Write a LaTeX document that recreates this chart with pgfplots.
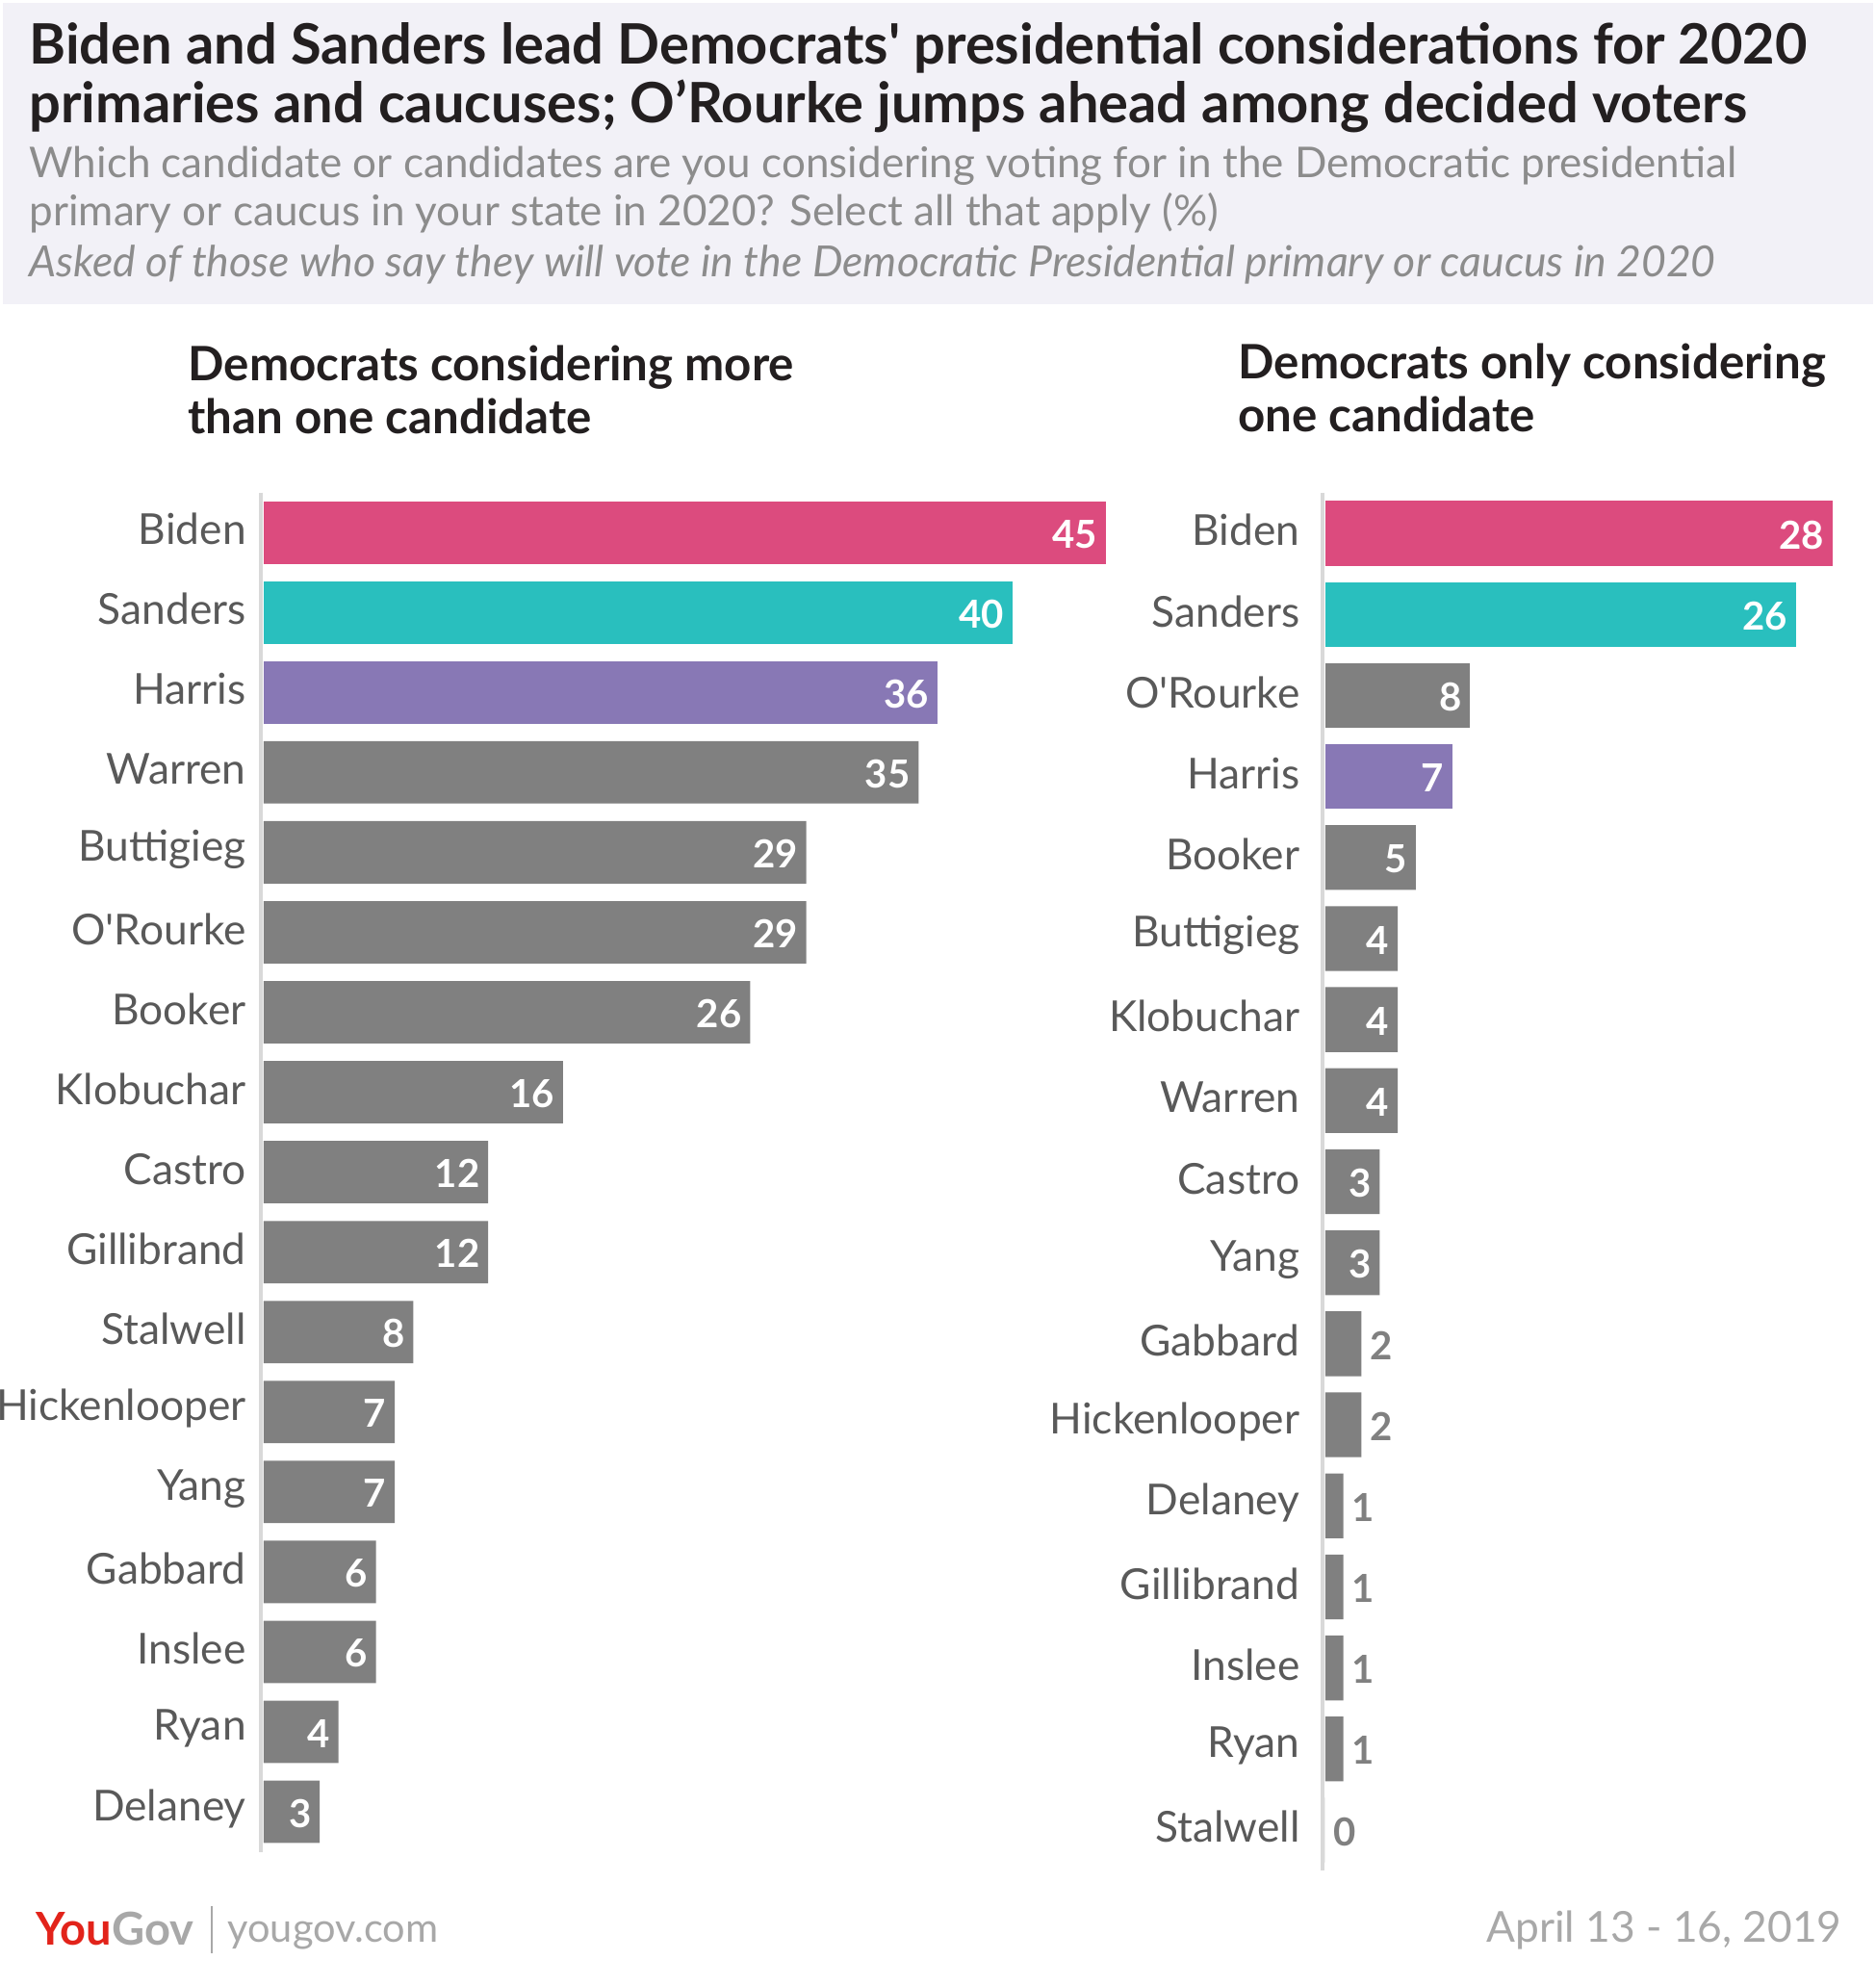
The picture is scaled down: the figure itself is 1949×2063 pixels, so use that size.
\documentclass[border=0pt]{standalone}
\usepackage{fontspec}
\setmainfont{Lato}
\usepackage{pgfplots}
\pgfplotsset{compat=1.18}
\definecolor{pinkb}{HTML}{DC4B7E}
\definecolor{tealb}{HTML}{29BFBE}
\definecolor{purpb}{HTML}{8878B5}
\definecolor{grayb}{HTML}{808080}
\definecolor{axgray}{HTML}{D9D9D9}
\definecolor{hdrbg}{HTML}{F2F1F7}
\definecolor{titlec}{HTML}{231F20}
\definecolor{subc}{HTML}{8C8C8C}
\definecolor{labc}{HTML}{595959}
\definecolor{ygred}{HTML}{E2231A}
\definecolor{yggray}{HTML}{A8A8A8}
\newcommand\fs[1]{\fontsize{#1}{#1}\selectfont}
\pgfplotsset{
  panel/.style={
    scale only axis, xbar, bar shift=0pt, y dir=reverse,
    ymin=-0.5, ymax=16.5, xmin=-0.15, enlargelimits=false, clip=false,
    axis x line=none, axis y line*=left,
    y axis line style={draw=axgray, line width=1.5bp, -},
    ytick={0,...,16}, ytick style={draw=none}, major tick length=0pt,
    yticklabel style={font=\fs{16}, text=labc, yshift=1.2bp},
    /pgf/number format/assume math mode=true,
    nodes near coords,
    every node near coord/.append style={font=\bfseries\fs{14.5}, text=white, anchor=east, inner sep=3bp, yshift=-0.6bp},
  },
  inside/.style={draw=none, fill=#1},
  outside/.style={draw=none, fill=grayb, every node near coord/.append style={text=grayb, anchor=west}},
}
\begin{document}
\begin{tikzpicture}[x=0.36bp, y=-0.36bp]
\path[fill=white] (0,0) rectangle (1949,2063);
\path[fill=hdrbg] (3,3) rectangle (1946,316);
\node[anchor=base west, inner sep=0, text=titlec, font=\bfseries\fs{20.9}] at (30,66) {Biden and Sanders lead Democrats\textquotesingle{} presidential considerations for 2020};
\node[anchor=base west, inner sep=0, text=titlec, font=\bfseries\fs{20.9}] at (30,127) {primaries and caucuses; O’Rourke jumps ahead among decided voters};
\node[anchor=base west, inner sep=0, text=subc, font=\fs{15.9}] at (30,184) {Which candidate or candidates are you considering voting for in the Democratic presidential};
\node[anchor=base west, inner sep=0, text=subc, font=\fs{15.9}] at (30,234) {primary or caucus in your state in 2020? Select all that apply (\%)};
\node[anchor=base west, inner sep=0, text=subc, font=\itshape\fs{16.1}] at (30,287) {Asked of those who say they will vote in the Democratic Presidential primary or caucus in 2020};
\node[anchor=base west, inner sep=0, text=titlec, font=\bfseries\fs{17.8}] at (195,395) {Democrats considering more};
\node[anchor=base west, inner sep=0, text=titlec, font=\bfseries\fs{17.8}] at (195,450) {than one candidate};
\node[anchor=base west, inner sep=0, text=titlec, font=\bfseries\fs{17.8}] at (1286,393) {Democrats only considering};
\node[anchor=base west, inner sep=0, text=titlec, font=\bfseries\fs{17.8}] at (1286,448) {one candidate};

\begin{axis}[panel, at={(97.56bp,-692.46bp)}, anchor=south west, width=316bp, height=508.3bp,
  xmax=45, bar width=0.78,
  yticklabels={Biden,Sanders,Harris,Warren,Buttigieg,O\textquotesingle{}Rourke,Booker,Klobuchar,Castro,Gillibrand,Stalwell,Hickenlooper,Yang,Gabbard,Inslee,Ryan,Delaney},
  yticklabel style={xshift=-2bp}]
\addplot[inside=pinkb] coordinates {(45,0)};
\addplot[inside=tealb] coordinates {(40,1)};
\addplot[inside=purpb] coordinates {(36,2)};
\addplot[inside=grayb] coordinates {(35,3)(29,4)(29,5)(26,6)(16,7)(12,8)(12,9)(8,10)(7,11)(7,12)(6,13)(6,14)(4,15)(3,16)};
\end{axis}

\begin{axis}[panel, at={(494.64bp,-699.48bp)}, anchor=south west, width=190.7bp, height=515.2bp,
  xmax=28, bar width=0.8,
  yticklabels={Biden,Sanders,O\textquotesingle{}Rourke,Harris,Booker,Buttigieg,Klobuchar\hspace{2bp},Warren,Castro,Yang,Gabbard,Hickenlooper,Delaney,Gillibrand,Inslee,Ryan,Stalwell},
  yticklabel style={xshift=-5bp}]
\addplot[inside=pinkb] coordinates {(28,0)};
\addplot[inside=tealb] coordinates {(26,1)};
\addplot[inside=grayb] coordinates {(8,2)};
\addplot[inside=purpb] coordinates {(7,3)};
\addplot[inside=grayb] coordinates {(5,4)(4,5)(4,6)(4,7)(3,8)(3,9)};
\addplot[outside] coordinates {(2,10)(2,11)(1,12)(1,13)(1,14)(1,15)(0,16)};
\end{axis}

\node[anchor=base west, inner sep=0, font=\bfseries\fs{17}] at (37,2020) {\textcolor{ygred}{You}\textcolor{yggray}{Gov}};
\draw[yggray, line width=0.6bp] (220,1980) -- (220,2029);
\node[anchor=base west, inner sep=0, text=yggray, font=\fs{15}] at (236,2017) {yougov.com};
\node[anchor=base east, inner sep=0, text=yggray, font=\fs{16}] at (1914,2017) {April 13 - 16, 2019};
\pgfresetboundingbox
\path[use as bounding box] (0,0) rectangle (1949,2063);
\end{tikzpicture}
\end{document}
